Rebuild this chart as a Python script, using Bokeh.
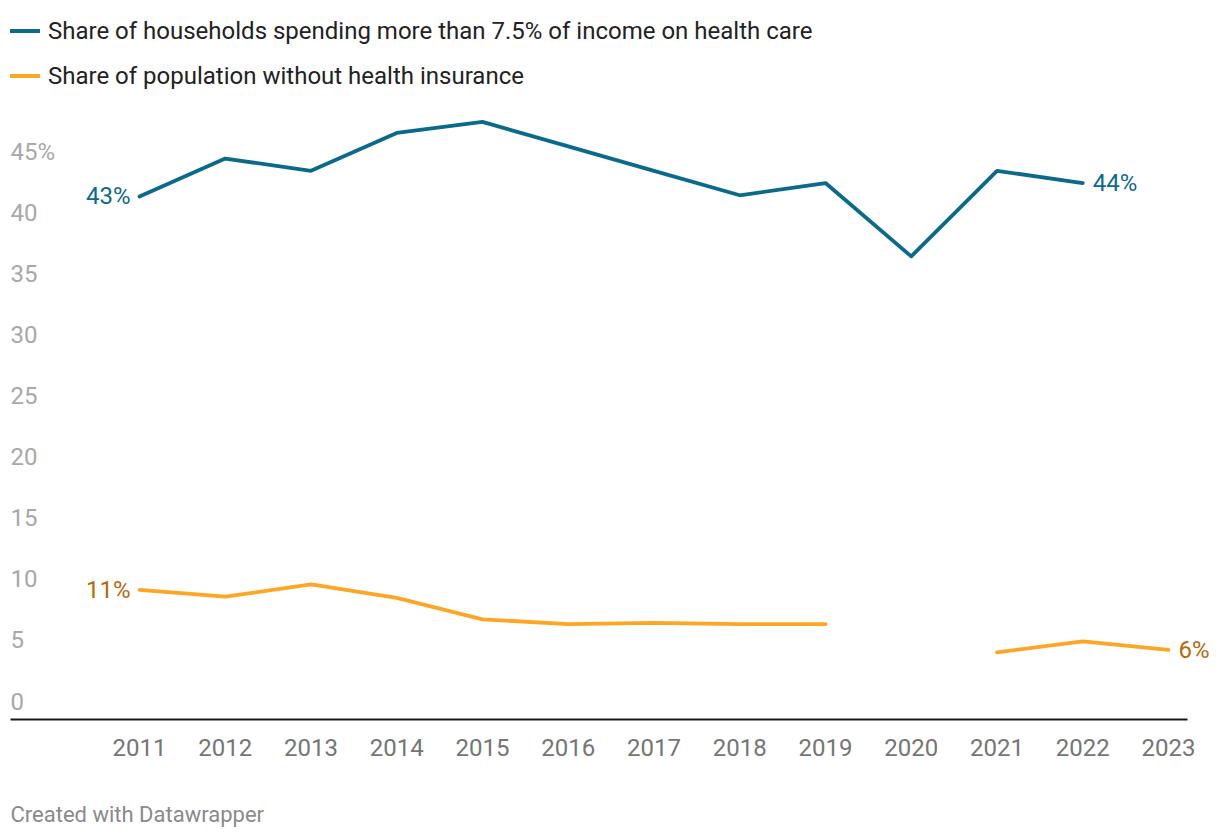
from bokeh.plotting import figure
from bokeh.models import (ColumnDataSource, FixedTicker, Legend, LegendItem,
                          LabelSet, Title, Range1d)
from bokeh.core.properties import value
from bokeh.embed import file_html
from bokeh.resources import INLINE
import math

nan = float("nan")

years = [2011, 2012, 2013, 2014, 2015, 2016, 2017, 2018, 2019, 2020, 2021, 2022, 2023]
year_labels = [str(y) for y in years]
spending_share = [42.8, 45.9, 44.9, 48.0, 48.9, 46.9, 44.9, 42.9, 43.9, 37.9, 44.9, 43.9, nan]
uninsured_share = [10.6, 10.05, 11.05, 9.95, 8.2, 7.8, 7.9, 7.8, 7.8, nan, 5.5, 6.4, 5.7]
series_names = ["Share of households spending more than 7.5% of income on health care",
                "Share of population without health insurance"]
y_ticks = [0, 5, 10, 15, 20, 25, 30, 35, 40, 45]
y_tick_labels = ["0", "5", "10", "15", "20", "25", "30", "35", "40", "45%"]

BLUE = "#0b6a8c"
ORANGE = "#fda623"
ORANGE_TXT = "#b5690a"
FONT = "Roboto"
FS = "24px"

PX_PER_YEAR = 85.75
PX_PER_UNIT = 12.22
FRAME_W = 1202
FRAME_H = 711
x_start = 2011 - 129 / PX_PER_YEAR
x_end = x_start + FRAME_W / PX_PER_YEAR
baseline_end = x_start + 1177 / PX_PER_YEAR
y_end = FRAME_H / PX_PER_UNIT

p = figure(frame_width=FRAME_W, frame_height=FRAME_H, output_backend="svg",
           toolbar_location=None,
           x_range=Range1d(x_start, x_end), y_range=Range1d(0, y_end),
           y_axis_location=None,
           min_border_left=10, min_border_right=0, min_border_top=8, min_border_bottom=0)
p.outline_line_color = None
p.grid.visible = False
p.background_fill_color = "white"
p.border_fill_color = "white"

src = ColumnDataSource(dict(x=years, a=spending_share, b=uninsured_share))
r1 = p.line("x", "a", source=src, line_color=BLUE, line_width=3.8, line_join="round", line_cap="round")
r2 = p.line("x", "b", source=src, line_color=ORANGE, line_width=3.8, line_join="round", line_cap="round")

# x axis
ax = p.xaxis[0]
ax.ticker = FixedTicker(ticks=years)
ax.bounds = (x_start, baseline_end)
ax.major_label_overrides = {y: l for y, l in zip(years, year_labels)}
ax.major_tick_line_color = None
ax.minor_tick_line_color = None
ax.axis_line_color = "#1a1a1a"
ax.axis_line_width = 2
ax.major_label_standoff = 13
ax.major_label_text_font = FONT
ax.major_label_text_font_size = FS
ax.major_label_text_color = "#757575"

# y tick labels (above their gridline positions, left aligned)
ysrc = ColumnDataSource(dict(x=[x_start] * len(y_ticks), y=y_ticks, t=y_tick_labels))
p.add_layout(LabelSet(x="x", y="y", text="t", source=ysrc, text_align="left",
                      text_baseline="alphabetic", y_offset=10, text_font=value(FONT),
                      text_font_size=value(FS), text_color="#a8a8a8"))

# end-value labels
def valid(vals):
    return [(yr, v) for yr, v in zip(years, vals) if not math.isnan(v)]

def pct(v):
    return f"{int(math.floor(v + 0.5))}%"

def end_labels(vals, color):
    pts = valid(vals)
    (x0, v0), (x1, v1) = pts[0], pts[-1]
    s1 = ColumnDataSource(dict(x=[x0], y=[v0], t=[pct(v0)]))
    s2 = ColumnDataSource(dict(x=[x1], y=[v1], t=[pct(v1)]))
    p.add_layout(LabelSet(x="x", y="y", text="t", source=s1, text_align="right",
                          text_baseline="middle", x_offset=-9, text_font=value(FONT),
                          text_font_size=value(FS), text_color=color))
    p.add_layout(LabelSet(x="x", y="y", text="t", source=s2, text_align="left",
                          text_baseline="middle", x_offset=10, text_font=value(FONT),
                          text_font_size=value(FS), text_color=color))

end_labels(spending_share, BLUE)
end_labels(uninsured_share, ORANGE_TXT)

legend = Legend(items=[LegendItem(label=series_names[0], renderers=[r1]),
                       LegendItem(label=series_names[1], renderers=[r2])],
                location="top_left", margin=0, padding=0, spacing=0,
                glyph_width=30, glyph_height=45, label_standoff=8,
                label_text_font=FONT, label_text_font_size=FS,
                label_text_color="#222222", border_line_color=None,
                background_fill_alpha=0)
p.add_layout(legend)

footer = Title(text="Created with Datawrapper", align="left", text_font=FONT,
               text_font_size="22px", text_font_style="normal", text_color="#8a8a8a",
               standoff=82, offset=0)
p.add_layout(footer, "below")

open("out.html", "w").write(file_html(p, INLINE))
